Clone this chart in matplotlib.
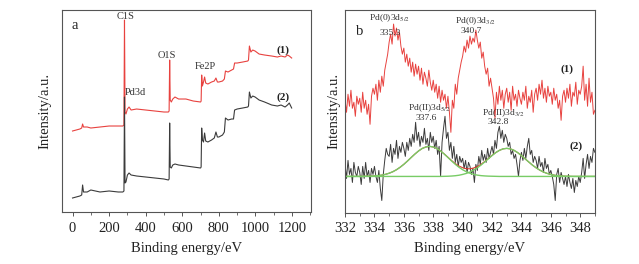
import numpy as np
import matplotlib
matplotlib.use("Agg")
import matplotlib.pyplot as plt
from matplotlib.ticker import MultipleLocator

plt.rcParams['font.family'] = ['Liberation Serif', 'DejaVu Serif']
plt.rcParams['mathtext.fontset'] = 'stix'

# ---------------- panel a : survey spectra ----------------
survey_energy = [0, 20, 40, 50, 55, 60, 80, 100, 150, 200, 250, 275, 281, 284, 287, 292, 300,
                 309, 320, 350, 400, 450, 500, 524, 528, 531, 534, 540, 548, 560, 580, 620,
                 660, 700, 703, 706, 710, 716, 722, 728, 740, 760, 775, 784, 792, 800, 820,
                 830, 836, 850, 870, 880, 886, 900, 930, 958, 962, 967, 975, 985, 998, 1020,
                 1050, 1089, 1120, 1140, 1162, 1175, 1185, 1198]
survey_1 = [81, 82, 83, 84, 88, 85, 85, 84, 85, 86, 86, 86, 87, 192, 100, 98, 103,
            105, 102, 103, 102, 101, 100, 100, 101, 152, 112, 110, 113, 115, 113, 113,
            111, 110, 111, 137, 126, 130, 135, 129, 128, 130, 131, 134, 130, 130, 131,
            133, 141, 140, 142, 143, 149, 149, 150, 151, 152, 166, 160, 162, 161, 158,
            157, 156, 155, 156, 155, 157, 156, 154]
survey_2 = [14, 15, 16, 17, 27, 20, 20, 22, 20, 21, 20, 20, 21, 115, 29, 30, 37,
            39, 37, 36, 35, 34, 33, 32, 33, 89, 45, 44, 47, 48, 47, 46,
            45, 44, 45, 84, 72, 70, 79, 71, 70, 72, 74, 80, 75, 75, 77,
            80, 94, 92, 93, 93, 102, 103, 104, 105, 106, 120, 114, 116, 115, 112,
            110, 107, 106, 107, 105, 107, 109, 104]
survey_ticks = [0, 200, 400, 600, 800, 1000, 1200]

# ---------------- panel b : Pd 3d spectra ----------------
pd_energy = np.linspace(332, 349, 171)
pd_1 = [112, 100, 118, 106, 122, 104, 110, 96, 116, 108,
        114, 100, 120, 104, 112, 98, 108, 88, 116, 124,
        118, 128, 112, 132, 120, 136, 126, 142, 150, 158,
        170, 178, 168, 188, 176, 184, 172, 180, 166, 158,
        164, 150, 158, 146, 154, 140, 150, 136, 148, 138,
        146, 132, 144, 128, 140, 134, 126, 142, 130, 122,
        132, 120, 128, 114, 126, 110, 122, 112, 118, 104,
        116, 100, 80, 112, 104, 128, 118, 134, 142, 150,
        156, 166, 160, 172, 164, 176, 168, 174, 170, 182,
        172, 164, 170, 154, 160, 146, 138, 144, 126, 134,
        124, 114, 94, 120, 108, 126, 112, 122, 104, 118,
        124, 110, 120, 102, 126, 112, 118, 106, 122, 114,
        108, 120, 112, 126, 104, 116, 110, 122, 100, 118,
        124, 112, 128, 118, 132, 114, 124, 110, 126, 116,
        120, 108, 124, 112, 118, 104, 112, 92, 116, 122,
        110, 124, 114, 128, 106, 120, 116, 130, 108, 122,
        118, 126, 146, 112, 128, 106, 134, 110, 120, 98,
        102]
pd_2 = [48, 34, 52, 38, 44, 30, 50, 40, 36, 46,
        40, 28, 46, 34, 50, 36, 42, 30, 44, 38,
        46, 36, 30, 42, 24, 12, 38, 52, 64, 58,
        56, 68, 50, 64, 58, 72, 54, 66, 60, 70,
        64, 56, 70, 62, 74, 66, 78, 70, 90, 72,
        80, 66, 76, 70, 84, 68, 74, 62, 80, 70,
        76, 64, 72, 58, 66, 36, 70, 84, 96, 74,
        80, 62, 70, 54, 66, 50, 58, 46, 56, 50,
        54, 44, 52, 40, 50, 46, 38, 44, 30, 48,
        42, 56, 48, 62, 52, 58, 50, 64, 54, 60,
        66, 58, 72, 64, 80, 86, 74, 82, 70, 78,
        74, 66, 70, 58, 62, 54, 58, 48, 36, 52,
        60, 52, 64, 54, 66, 74, 58, 62, 50, 56,
        52, 44, 56, 46, 50, 40, 54, 44, 48, 38,
        42, 36, 28, 12, 38, 44, 30, 40, 34, 28,
        36, 26, 38, 30, 24, 34, 20, 32, 26, 36,
        30, 40, 54, 34, 48, 58, 44, 56, 50, 64,
        60]

fit_energy = np.linspace(332, 349, 69)
fit_baseline = 36
fit_peak_1 = [0, 0, 0, 0, 0, 0.1, 0.2, 0.3, 0.5, 0.8, 1.3, 2.1, 3.2, 4.7, 6.7, 9.2,
              12.1, 15.4, 18.9, 22.3, 25.4, 27.9, 29.4, 30, 29.4, 27.9, 25.4, 22.3,
              18.9, 15.4, 12.1, 9.2, 6.7, 4.7, 3.2, 2.1, 1.3, 0.8, 0.5, 0.3, 0.2, 0.1,
              0, 0, 0, 0, 0, 0, 0, 0, 0, 0, 0, 0, 0, 0, 0, 0, 0, 0, 0, 0, 0, 0, 0, 0,
              0, 0, 0]
fit_peak_2 = [0, 0, 0, 0, 0, 0, 0, 0, 0, 0, 0, 0, 0, 0, 0, 0, 0, 0, 0, 0, 0, 0, 0, 0,
              0, 0, 0, 0.1, 0.2, 0.4, 0.7, 1.2, 2.0, 3.0, 4.4, 6.3, 8.6, 11.3, 14.4,
              17.6, 20.8, 23.7, 26.0, 27.5, 28, 27.5, 26.0, 23.7, 20.8, 17.6, 14.4,
              11.3, 8.6, 6.3, 4.4, 3.0, 2.0, 1.2, 0.7, 0.4, 0.2, 0.1, 0, 0, 0, 0, 0, 0, 0]
pd_ticks = [332, 334, 336, 338, 340, 342, 344, 346, 348]

RED = '#e8423f'
BLACK = '#3b3b3b'
GREEN = '#78cc66'
SPINE = '#555555'

fig = plt.figure(figsize=(6.39, 2.64), dpi=100)
axa = fig.add_axes([0.0975, 0.197, 0.3887, 0.765])
axb = fig.add_axes([0.540, 0.195, 0.391, 0.767])

for ax, lp in ((axa, 8), (axb, 3)):
    for s in ax.spines.values():
        s.set_color(SPINE)
        s.set_linewidth(0.8)
    ax.set_yticks([])
    ax.tick_params(axis='x', which='major', direction='out', length=3, width=0.7, color=SPINE,
                   labelsize=10.5, pad=4, labelcolor='#222222')
    ax.tick_params(axis='x', which='minor', direction='out', length=2, width=0.6, color=SPINE)
    ax.set_ylabel('Intensity/a.u.', fontsize=10.5, color='#222222', labelpad=lp)
    ax.set_xlabel('Binding energy/eV', fontsize=10.5, color='#222222', labelpad=5)
    ax.set_ylim(0, 202)

# panel a
axa.plot(survey_energy, survey_1, color=RED, lw=0.8)
axa.plot(survey_energy, survey_2, color=BLACK, lw=0.8)
axa.set_xlim(-56, 1302)
axa.set_xticks(survey_ticks)
axa.xaxis.set_minor_locator(MultipleLocator(100))
tk = dict(fontsize=7.5, color='#333333', ha='center', va='center')
axa.text(289, 196, 'C1S', **tk)
axa.text(344, 120, 'Pd3d', **tk)
axa.text(518, 157, 'O1S', **tk)
axa.text(725, 146, 'Fe2P', **tk)
axa.text(1151, 162, '(1)', fontsize=8, fontweight='bold', ha='center', va='center', color='#222222')
axa.text(1151, 115, '(2)', fontsize=8, fontweight='bold', ha='center', va='center', color='#222222')
axa.text(11, 187, 'a', fontsize=10.5, ha='center', va='center', color='#222222')

# panel b
axb.plot(pd_energy, pd_1, color=RED, lw=0.7)
axb.plot(pd_energy, pd_2, color=BLACK, lw=0.7)
envelope = fit_baseline + np.array(fit_peak_1) + np.array(fit_peak_2)
axb.plot(fit_energy, envelope, color='#d83a30', lw=0.8)
axb.plot(fit_energy, fit_baseline + np.array(fit_peak_1), color=GREEN, lw=1.0)
axb.plot(fit_energy, fit_baseline + np.array(fit_peak_2), color=GREEN, lw=1.0)
axb.set_xlim(332, 349)
axb.set_xticks(pd_ticks)
axb.xaxis.set_minor_locator(MultipleLocator(1))

tb = dict(fontsize=6.8, color='#333333', ha='center', va='center')
axb.text(335.0, 194, r'Pd(0)3d$_{5/2}$', **tb)
axb.text(335.1, 179, '335.3', **tb)
axb.text(340.9, 191, r'Pd(0)3d$_{3/2}$', **tb)
axb.text(340.6, 181, '340.7', **tb)
axb.text(337.7, 104, r'Pd(II)3d$_{5/2}$', **tb)
axb.text(337.5, 94, '337.6', **tb)
axb.text(342.75, 99, r'Pd(II)3d$_{3/2}$', **tb)
axb.text(342.4, 90, '342.8', **tb)
axb.text(347.1, 143, '(1)', fontsize=8, fontweight='bold', ha='center', va='center', color='#222222')
axb.text(347.7, 66, '(2)', fontsize=8, fontweight='bold', ha='center', va='center', color='#222222')
axb.text(333.0, 181, 'b', fontsize=10.5, ha='center', va='center', color='#222222')

fig.savefig('out.png', dpi=100)
